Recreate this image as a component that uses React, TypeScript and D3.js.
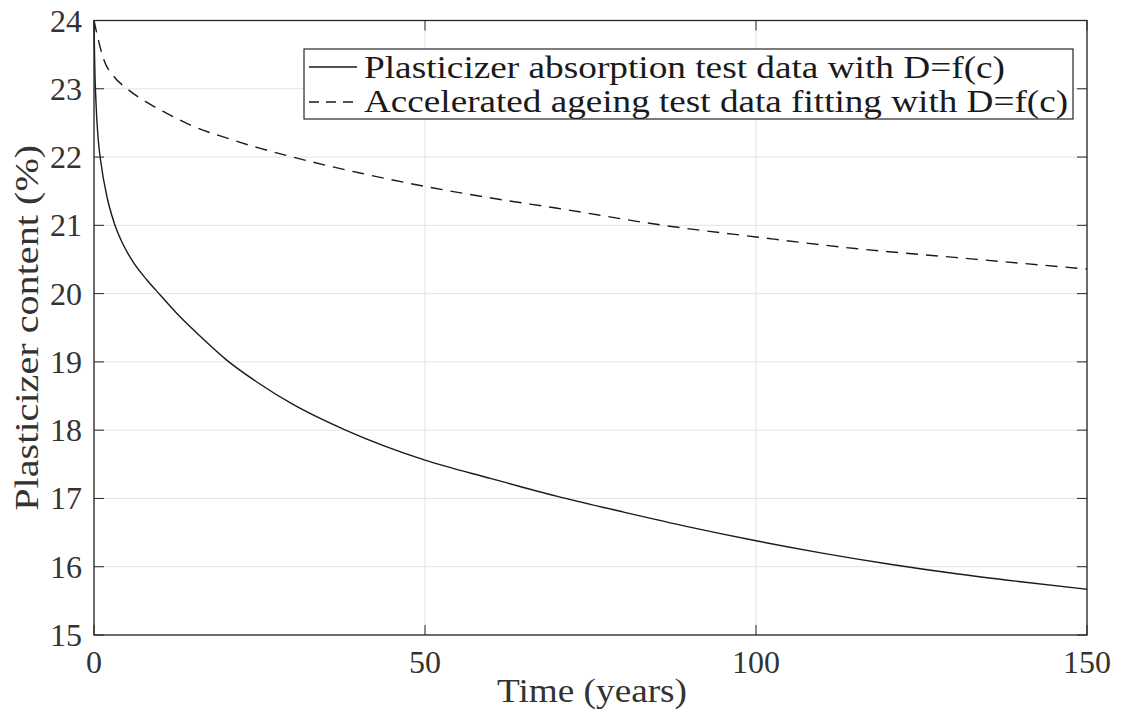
import React from "react";
import * as d3 from "d3";

const solidT = [0, 0.1, 0.3, 0.6, 1, 2, 3, 4.5, 6, 8, 10, 13, 16, 20, 25, 30, 38, 50, 60, 70, 80, 90, 100, 110, 120, 130, 140, 150];
const solidV = [24.0, 23.4, 22.8, 22.3, 21.95, 21.4, 21.05, 20.7, 20.45, 20.2, 19.98, 19.66, 19.38, 19.03, 18.68, 18.38, 18.0, 17.56, 17.29, 17.03, 16.8, 16.58, 16.38, 16.2, 16.04, 15.9, 15.78, 15.67];

const dashT = [0, 0.5, 1.5, 3, 5, 8, 11, 15, 20, 25, 30, 40, 50, 60, 70, 86, 100, 115, 130, 150];
const dashV = [24.0, 23.78, 23.42, 23.18, 23.0, 22.8, 22.64, 22.45, 22.28, 22.13, 22.0, 21.77, 21.57, 21.4, 21.25, 21.0, 20.83, 20.66, 20.53, 20.36];

const xTicks = [0, 50, 100, 150];
const yTicks = [15, 16, 17, 18, 19, 20, 21, 22, 23, 24];
const legendLabels = [
  "Plasticizer absorption test data with D=f(c)",
  "Accelerated ageing test data fitting with D=f(c)",
];

const FONT = "Liberation Serif, Times New Roman, serif";
const ts = { fontFamily: FONT } as React.CSSProperties;

export default function App() {
  const L = 94, R = 1087, T = 20.5, B = 635;
  const x = d3.scaleLinear().domain([0, 150]).range([L, R]);
  const y = d3.scaleLinear().domain([15, 24]).range([B, T]);
  const line = d3
    .line<[number, number]>()
    .x((d) => x(d[0]))
    .y((d) => y(d[1]))
    .curve(d3.curveMonotoneX);
  const solid = solidT.map((t, i) => [t, solidV[i]] as [number, number]);
  const dashed = dashT.map((t, i) => [t, dashV[i]] as [number, number]);
  const axisColor = "#262626";
  const tickLen = 10;

  return (
    <svg
      width={1121}
      height={722}
      style={{ position: "absolute", left: 0, top: 0, background: "#fff" }}
    >
      <rect x={0} y={0} width={1121} height={722} fill="#fff" />
      {xTicks.map((t) => (
        <line key={"gx" + t} x1={x(t)} x2={x(t)} y1={T} y2={B} stroke="#e3e3e3" strokeWidth={1} />
      ))}
      {yTicks.map((t) => (
        <line key={"gy" + t} x1={L} x2={R} y1={y(t)} y2={y(t)} stroke="#e3e3e3" strokeWidth={1} />
      ))}
      <path d={line(dashed) || ""} fill="none" stroke="#1a1a1a" strokeWidth={1.4} strokeDasharray="12,8" />
      <path d={line(solid) || ""} fill="none" stroke="#1a1a1a" strokeWidth={1.4} />
      <rect x={L} y={T} width={R - L} height={B - T} fill="none" stroke={axisColor} strokeWidth={1.3} />
      {xTicks.map((t) => (
        <g key={"tx" + t}>
          <line x1={x(t)} x2={x(t)} y1={B} y2={B - tickLen} stroke={axisColor} />
          <line x1={x(t)} x2={x(t)} y1={T} y2={T + tickLen} stroke={axisColor} />
          <text x={x(t)} y={673} textAnchor="middle" fontSize={32} fill="#333" style={ts}>
            {t}
          </text>
        </g>
      ))}
      {yTicks.map((t) => (
        <g key={"ty" + t}>
          <line x1={L} x2={L + tickLen} y1={y(t)} y2={y(t)} stroke={axisColor} />
          <line x1={R} x2={R - tickLen} y1={y(t)} y2={y(t)} stroke={axisColor} />
          <text x={82} y={y(t) + 11} textAnchor="end" fontSize={32} fill="#333" style={ts}>
            {t}
          </text>
        </g>
      ))}
      <text x={592} y={702} textAnchor="middle" fontSize={34} fill="#333" textLength={190} lengthAdjust="spacingAndGlyphs" style={ts}>
        Time (years)
      </text>
      <text
        transform={`translate(38,${(T + B) / 2}) rotate(-90)`}
        textAnchor="middle"
        fontSize={34}
        fill="#333"
        textLength={366}
        lengthAdjust="spacingAndGlyphs"
        style={ts}
      >
        Plasticizer content (%)
      </text>
      <rect x={304} y={49} width={769} height={70} fill="#fff" stroke={axisColor} strokeWidth={1.2} />
      <line x1={309} x2={357} y1={67} y2={67} stroke="#1a1a1a" strokeWidth={1.4} />
      <line x1={309} x2={357} y1={102} y2={102} stroke="#1a1a1a" strokeWidth={1.4} strokeDasharray="10,7" />
      <text x={364} y={78} fontSize={32} fill="#1a1a1a" textLength={641} lengthAdjust="spacingAndGlyphs" style={ts}>
        {legendLabels[0]}
      </text>
      <text x={364} y={112} fontSize={32} fill="#1a1a1a" textLength={704} lengthAdjust="spacingAndGlyphs" style={ts}>
        {legendLabels[1]}
      </text>
    </svg>
  );
}
